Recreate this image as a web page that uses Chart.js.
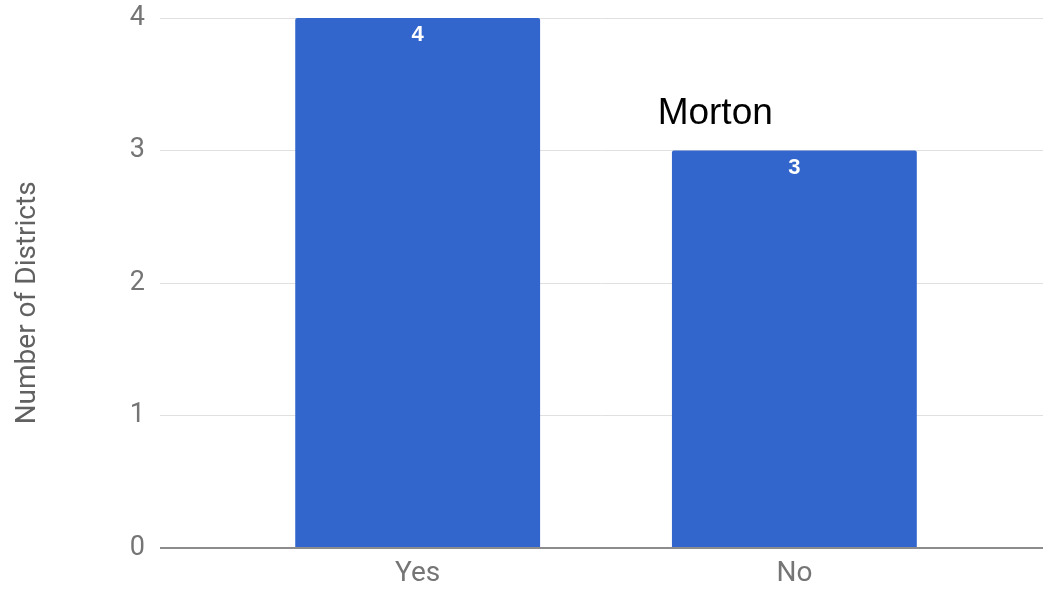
<!DOCTYPE html>
<html>
<head>
<meta charset="utf-8">
<script src="https://cdn.jsdelivr.net/npm/chart.js@4/dist/chart.umd.min.js"></script>
<style>
  html, body { margin: 0; padding: 0; background: #fff; }
  #wrap { width: 1043px; height: 589px; position: relative; }
</style>
</head>
<body>
<div id="wrap"><canvas id="chart" width="1043" height="589"></canvas></div>
<script>
const categories = ['Yes', 'No'];
const districtCounts = [4, 3];
const yTicks = [0, 1, 2, 3, 4];
const axisTitle = 'Number of Districts';
const noteText = 'Morton';

// bars sit on a linear x scale so the plot can start well left of the first bar
const points = categories.map((c, i) => ({ x: i, y: districtCounts[i] }));

const extras = {
  id: 'extras',
  afterDatasetsDraw(chart) {
    const ctx = chart.ctx;
    const meta = chart.getDatasetMeta(0);
    const xs = chart.scales.x, ys = chart.scales.y;
    ctx.save();
    ctx.fillStyle = '#ffffff';
    ctx.font = 'bold 22px "Liberation Sans", Arial, sans-serif';
    ctx.textAlign = 'center';
    ctx.textBaseline = 'middle';
    meta.data.forEach((bar, i) => {
      ctx.fillText(String(districtCounts[i]), bar.x, bar.y + 17);
    });

    // free text note above the "No" bar
    ctx.fillStyle = '#000000';
    ctx.font = '37px "Liberation Sans", Arial, sans-serif';
    ctx.textAlign = 'left';
    ctx.textBaseline = 'alphabetic';
    ctx.fillText(noteText, xs.getPixelForValue(0.637), ys.getPixelForValue(3.2));

    // y axis title, sitting a bit below the plot's middle like the original
    ctx.translate(28, ys.getPixelForValue(1.85));
    ctx.rotate(-Math.PI / 2);
    ctx.fillStyle = '#616161';
    ctx.font = '28px Roboto, sans-serif';
    ctx.textAlign = 'center';
    ctx.textBaseline = 'middle';
    ctx.fillText(axisTitle, 0, 0);
    ctx.restore();
  }
};

new Chart(document.getElementById('chart'), {
  type: 'bar',
  data: {
    datasets: [{
      data: points,
      backgroundColor: '#3366cc',
      borderRadius: 2,
      borderSkipped: 'bottom',
      categoryPercentage: 1,
      barPercentage: 0.65
    }]
  },
  options: {
    responsive: false,
    animation: false,
    layout: { autoPadding: false, padding: { top: 18, right: 0, bottom: 0, left: 0 } },
    plugins: {
      legend: { display: false },
      tooltip: { enabled: false }
    },
    scales: {
      x: {
        type: 'linear',
        offset: false,
        min: -0.684,
        max: 1.66,
        grid: { display: false, drawTicks: false },
        border: { display: false },
        afterBuildTicks: scale => {
          scale.ticks = categories.map((c, i) => ({ value: i }));
        },
        afterFit: scale => { scale.height = 41; },
        ticks: {
          padding: 9,
          color: '#757575',
          font: { family: 'Roboto, sans-serif', size: 28 },
          callback: v => categories[v] ?? ''
        }
      },
      y: {
        min: 0,
        max: 4,
        afterBuildTicks: scale => {
          scale.ticks = yTicks.map(v => ({ value: v }));
        },
        afterFit: scale => { scale.width = 160; },
        border: { display: false },
        grid: {
          drawTicks: false,
          color: c => c.tick && c.tick.value === 0 ? '#8c8c8c' : '#e0e0e0',
          lineWidth: c => c.tick && c.tick.value === 0 ? 2 : 1
        },
        ticks: {
          padding: 15,
          color: '#757575',
          font: { family: 'Roboto, sans-serif', size: 27, lineHeight: 0.2 }
        }
      }
    }
  },
  plugins: [extras]
});
</script>
</body>
</html>
